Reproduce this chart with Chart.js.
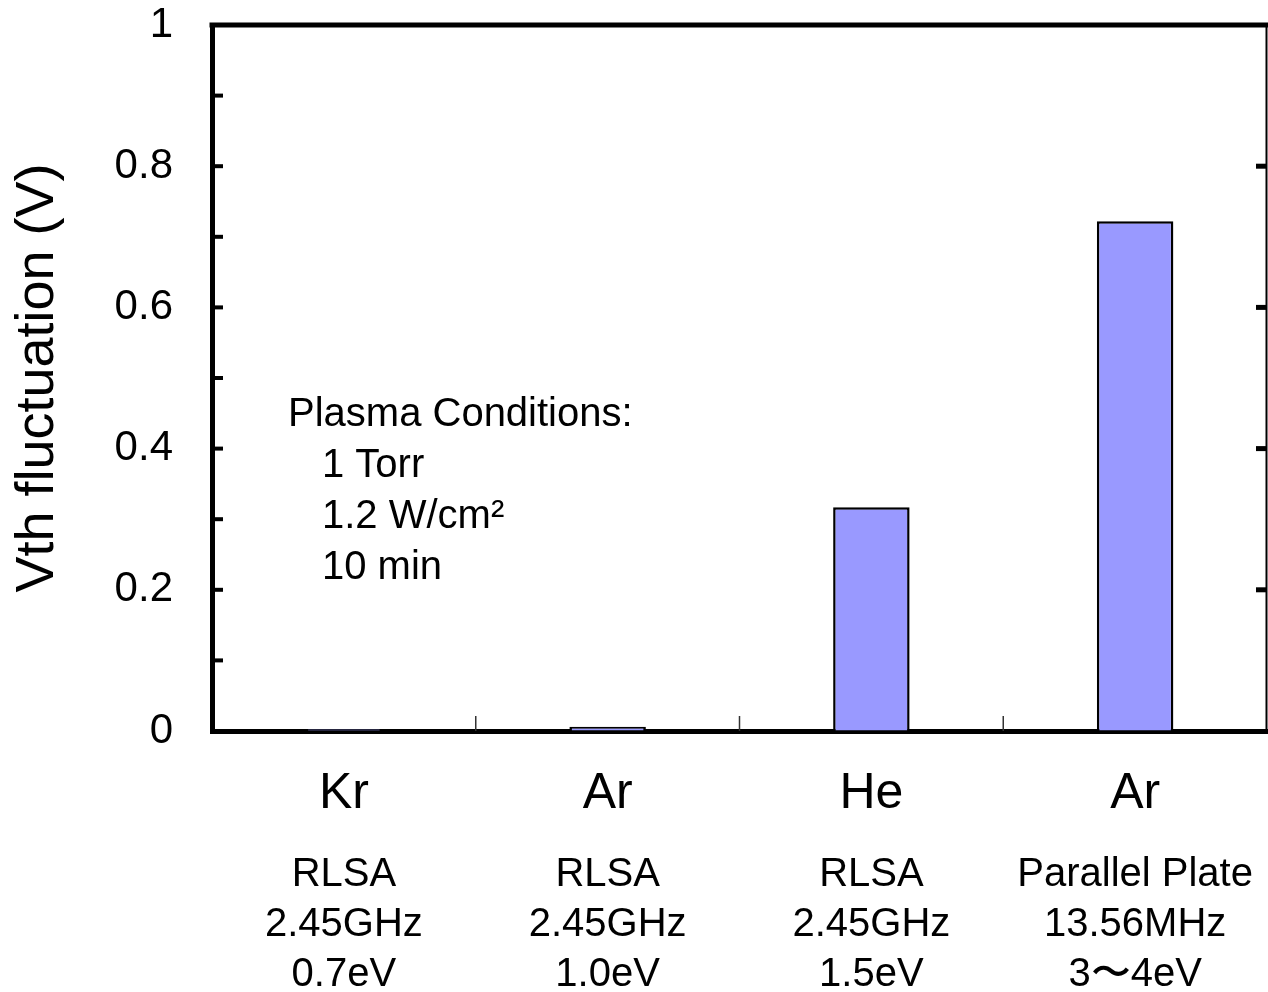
<!DOCTYPE html>
<html>
<head>
<meta charset="utf-8">
<script src="https://cdn.jsdelivr.net/npm/chart.js@4.4.1/dist/chart.umd.min.js"></script>
<style>
  html, body { margin: 0; padding: 0; background: #fff; }
  #wrap { width: 1268px; height: 992px; }
</style>
</head>
<body>
<div id="wrap"><canvas id="chart" width="1268" height="992"></canvas></div>
<script>
const gases = ["Kr", "Ar", "He", "Ar"];
const sources = [
  ["RLSA", "2.45GHz", "0.7eV"],
  ["RLSA", "2.45GHz", "1.0eV"],
  ["RLSA", "2.45GHz", "1.5eV"],
  ["Parallel Plate", "13.56MHz", "3\u301C4eV"],
];
const vthFluctuation = [0.003, 0.006, 0.317, 0.722];
const yTickLabels = ["0", "", "0.2", "", "0.4", "", "0.6", "", "0.8", "", "1"];
const conditionLines = ["Plasma Conditions:", "1 Torr", "1.2 W/cm\u00B2", "10 min"];

const FONT = "'Liberation Sans', Arial, sans-serif";

// Invisible tick marks: they push labels away from the axis without
// adding to the layout padding the way ticks.padding does.
function spacer(len) {
  return { display: true, drawOnChartArea: false, drawTicks: true, tickLength: len, color: "rgba(0,0,0,0)" };
}

// Box edges, inner tick marks, category dividers and the conditions note.
const frame = {
  id: "frame",
  afterDraw(chart) {
    const ctx = chart.ctx;
    const area = chart.chartArea;
    const x = chart.scales.x;
    const y = chart.scales.y;
    ctx.save();
    ctx.strokeStyle = "#000";

    ctx.lineWidth = 5;
    ctx.beginPath();
    ctx.moveTo(area.left - 2.5, area.top);
    ctx.lineTo(area.right + 1, area.top);
    ctx.stroke();

    ctx.lineWidth = 2;
    ctx.beginPath();
    ctx.moveTo(area.right - 0.5, area.top);
    ctx.lineTo(area.right - 0.5, area.bottom);
    ctx.stroke();

    y.ticks.forEach((t, i) => {
      if (i === 0 || i === y.ticks.length - 1) return;
      const py = y.getPixelForValue(t.value);
      ctx.lineWidth = 4;
      ctx.beginPath();
      ctx.moveTo(area.left, py);
      ctx.lineTo(area.left + 11, py);
      ctx.stroke();
      if (i % 2 === 0) {
        ctx.lineWidth = 5;
        ctx.beginPath();
        ctx.moveTo(area.right, py);
        ctx.lineTo(area.right - 11, py);
        ctx.stroke();
      }
    });

    ctx.lineWidth = 1.5;
    ctx.strokeStyle = "#333";
    for (let i = 0; i < gases.length - 1; i++) {
      const px = (x.getPixelForValue(i) + x.getPixelForValue(i + 1)) / 2;
      ctx.beginPath();
      ctx.moveTo(px, area.bottom);
      ctx.lineTo(px, area.bottom - 15);
      ctx.stroke();
    }

    ctx.fillStyle = "#000";
    ctx.font = "40px " + FONT;
    ctx.textBaseline = "middle";
    ctx.textAlign = "left";
    const top = y.getPixelForValue(0.448);
    conditionLines.forEach((line, i) => {
      const indent = i === 0 ? 76 : 110;
      ctx.fillText(line, area.left + indent, top + i * 51);
    });
    ctx.restore();
  },
};

new Chart(document.getElementById("chart"), {
  type: "bar",
  data: {
    labels: gases,
    datasets: [
      {
        data: vthFluctuation,
        backgroundColor: "#9999FF",
        borderColor: "#000",
        borderWidth: 2.5,
        barPercentage: 0.29,
        categoryPercentage: 1,
      },
    ],
  },
  options: {
    responsive: false,
    animation: false,
    devicePixelRatio: 1,
    layout: { padding: { top: 25, right: 1, left: 0, bottom: 0 } },
    plugins: { legend: { display: false }, tooltip: { enabled: false } },
    scales: {
      x: {
        type: "category",
        position: "bottom",
        weight: 0,
        offset: true,
        grid: { ...spacer(33), offset: true },
        border: { display: true, width: 5, color: "#000" },
        ticks: { color: "#000", padding: 0, font: { family: FONT, size: 50 } },
        afterFit: (s) => { s.height = 100; },
      },
      x2: {
        type: "category",
        position: "bottom",
        weight: 1,
        labels: sources,
        offset: true,
        grid: spacer(19),
        border: { display: false },
        ticks: { color: "#000", padding: 0, font: { family: FONT, size: 40, lineHeight: 1.25 } },
        afterFit: (s) => { s.height = 161; },
      },
      y: {
        min: 0,
        max: 1,
        grid: spacer(35),
        border: { display: true, width: 5, color: "#000" },
        ticks: {
          stepSize: 0.1,
          autoSkip: false,
          color: "#000",
          padding: 4,
          font: { family: FONT, size: 42, lineHeight: 1 },
          callback: (v, i) => yTickLabels[i],
        },
        title: {
          display: true,
          text: "Vth fluctuation (V)",
          color: "#000",
          padding: { top: 6, bottom: 0 },
          font: { family: FONT, size: 54 },
        },
        afterFit: (s) => { s.width = 212; },
      },
    },
  },
  plugins: [frame],
});
</script>
</body>
</html>
